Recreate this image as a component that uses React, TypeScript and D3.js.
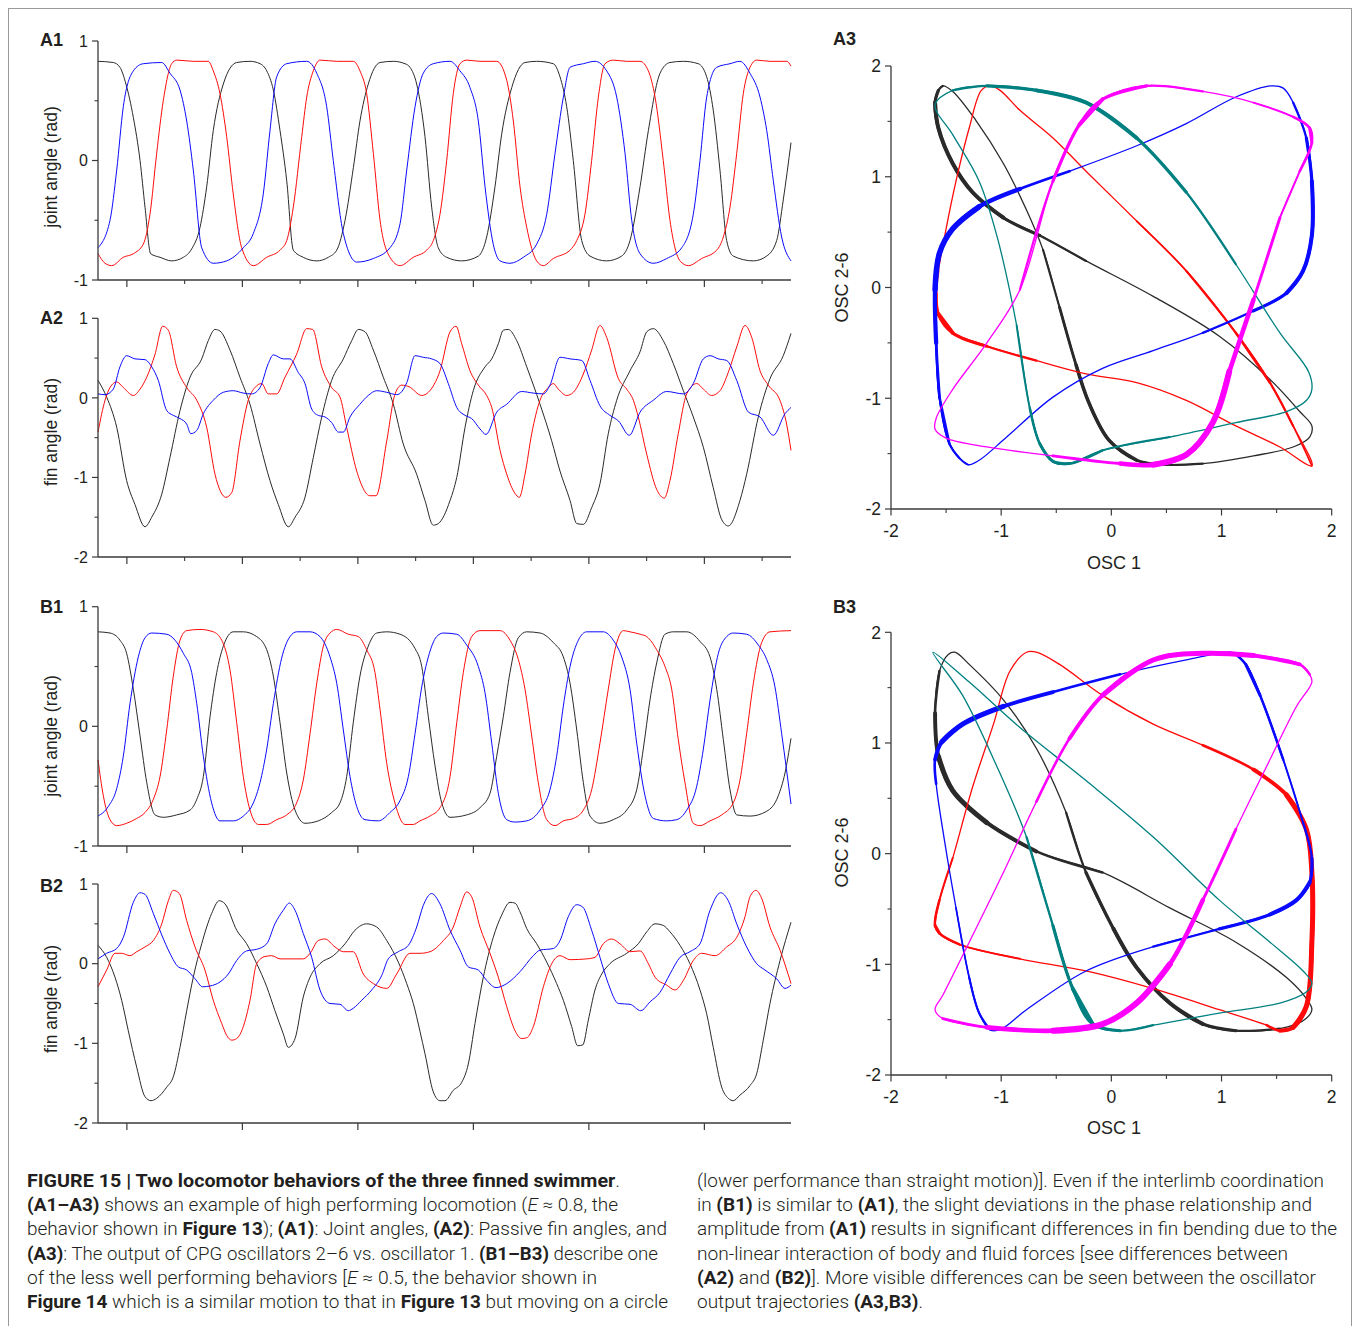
import React from "react";
import * as d3 from "d3";

type P = [number, number];
type Seg = [string, "n" | "b" | "i"];

// ---------- time axis (shared by A1, A2, B1, B2) ----------
const T_DOMAIN: P = [0, 60];
const T_MAJOR = [2.5, 12.5, 22.5, 32.5, 42.5, 52.5];
const T_MINOR = [7.5, 17.5, 27.5, 37.5, 47.5, 57.5];

// ---------- A1: joint angles ----------
const A1_BLACK: P[] = [[0,0.83],[1.32,0.82],[1.9,0.78],[2.42,0.64],[3.06,0.36],[3.64,0],[4.07,-0.39],[4.56,-0.78],[5.37,-0.81],[6.38,-0.84],[7.39,-0.81],[8.11,-0.74],[8.83,-0.56],[9.41,-0.22],[9.98,0.25],[10.85,0.64],[12.01,0.82],[13.16,0.83],[14.03,0.81],[14.61,0.75],[15.18,0.59],[15.76,0.25],[16.34,-0.17],[16.91,-0.75],[17.77,-0.81],[18.94,-0.84],[19.94,-0.81],[20.67,-0.75],[21.39,-0.5],[22.11,-0.06],[22.68,0.33],[23.4,0.64],[24.42,0.82],[25.57,0.83],[26.58,0.81],[27.01,0.78],[27.59,0.64],[28.31,0.2],[28.89,-0.39],[29.46,-0.73],[30.19,-0.81],[31.49,-0.84],[32.93,-0.8],[33.65,-0.64],[34.37,-0.22],[34.95,0.22],[35.82,0.61],[36.97,0.82],[37.98,0.83],[39.42,0.81],[40,0.7],[40.58,0.45],[41.15,0],[41.88,-0.67],[42.6,-0.8],[44.04,-0.84],[45.34,-0.8],[46.06,-0.67],[46.93,-0.22],[47.65,0.25],[48.66,0.73],[49.52,0.82],[50.68,0.83],[51.97,0.81],[52.7,0.7],[53.27,0.42],[53.85,-0.08],[54.43,-0.67],[55.0,-0.8],[56.74,-0.84],[57.89,-0.8],[58.76,-0.67],[59.33,-0.33],[60,0.15]];
const A1_BLUE: P[] = [[0,-0.73],[1.04,-0.5],[1.62,-0.08],[2.19,0.45],[3.06,0.75],[3.92,0.81],[5.52,0.82],[6.23,0.73],[7.1,0.59],[7.68,0.33],[8.25,-0.08],[8.98,-0.73],[9.98,-0.86],[11.14,-0.84],[12.58,-0.73],[13.45,-0.61],[14.31,-0.28],[14.89,0.25],[15.47,0.7],[16.34,0.81],[18.07,0.83],[18.94,0.73],[19.8,0.45],[20.37,0],[21.24,-0.61],[22.4,-0.85],[23.84,-0.82],[25.28,-0.73],[26.15,-0.53],[26.73,-0.08],[27.45,0.45],[28.16,0.73],[29.03,0.81],[30.48,0.83],[31.34,0.75],[32.21,0.61],[32.93,0.33],[33.51,-0.22],[34.22,-0.7],[34.81,-0.84],[35.67,-0.86],[36.82,-0.81],[37.98,-0.7],[38.85,-0.45],[39.57,0.06],[40.29,0.53],[40.87,0.78],[42.02,0.81],[43.03,0.83],[44.04,0.75],[44.91,0.53],[45.63,0.06],[46.21,-0.5],[46.93,-0.78],[48.08,-0.86],[49.24,-0.82],[50.54,-0.73],[51.54,-0.45],[52.12,0],[52.7,0.53],[53.57,0.78],[54.72,0.81],[55.58,0.83],[56.45,0.73],[57.32,0.53],[57.9,0.25],[58.47,-0.17],[59.19,-0.64],[60,-0.84]];
const A1_RED: P[] = [[0,-0.78],[0.61,-0.86],[1.19,-0.88],[2.19,-0.81],[3.06,-0.78],[3.92,-0.7],[4.5,-0.45],[5.08,0.06],[5.65,0.5],[6.38,0.81],[6.81,0.84],[8.25,0.83],[9.55,0.83],[9.98,0.75],[10.56,0.56],[11.14,0.2],[11.71,-0.28],[12.44,-0.73],[13.45,-0.88],[14.61,-0.81],[15.76,-0.75],[16.34,-0.67],[16.91,-0.39],[17.64,0.2],[18.07,0.53],[18.64,0.75],[19.22,0.84],[20.67,0.83],[22.1,0.83],[22.68,0.75],[23.26,0.56],[23.84,0.06],[24.42,-0.5],[25.28,-0.81],[26.15,-0.88],[27.3,-0.81],[28.46,-0.75],[29.03,-0.67],[29.61,-0.45],[30.19,0],[30.76,0.56],[31.34,0.81],[31.92,0.84],[33.07,0.83],[34.52,0.83],[35.39,0.67],[35.96,0.33],[36.54,-0.22],[37.12,-0.56],[37.98,-0.84],[38.55,-0.88],[39.42,-0.82],[40.87,-0.75],[41.45,-0.67],[42.16,-0.45],[42.74,0],[43.32,0.53],[43.9,0.81],[44.61,0.84],[45.77,0.83],[46.93,0.83],[47.65,0.75],[48.23,0.53],[48.94,0],[49.52,-0.5],[50.39,-0.84],[51.11,-0.88],[52.27,-0.82],[53.57,-0.75],[54.14,-0.64],[54.72,-0.39],[55.3,0.06],[55.87,0.56],[56.45,0.78],[57.03,0.84],[58.18,0.83],[59.63,0.83],[60,0.79]];

// ---------- A2: fin angles ----------
const A2_BLACK: P[] = [[0,0.22],[0.75,0.01],[1.62,-0.37],[2.48,-1.04],[3.2,-1.34],[4.07,-1.62],[4.65,-1.5],[5.52,-1.21],[6.23,-0.75],[7.1,-0.16],[7.97,0.26],[8.98,0.49],[9.55,0.72],[10.13,0.86],[10.56,0.84],[11.43,0.6],[12.29,0.26],[13.16,-0.08],[14.03,-0.58],[14.89,-1.04],[15.61,-1.34],[16.48,-1.62],[17.06,-1.5],[17.92,-1.25],[18.64,-0.75],[19.37,-0.24],[20.23,0.22],[21.24,0.49],[21.97,0.72],[22.54,0.86],[23.12,0.83],[23.84,0.6],[24.7,0.26],[25.57,-0.08],[26.43,-0.58],[27.59,-0.96],[28.31,-1.29],[29.03,-1.6],[29.46,-1.58],[30.48,-1.29],[31.06,-1.0],[31.78,-0.37],[32.49,0.09],[33.51,0.39],[34.09,0.49],[34.66,0.68],[35.09,0.85],[35.52,0.86],[36.25,0.72],[37.12,0.39],[38.27,-0.08],[39.28,-0.54],[40,-0.92],[40.87,-1.29],[41.45,-1.58],[42.02,-1.59],[42.74,-1.38],[43.46,-1.08],[44.18,-0.45],[44.91,-0.03],[46.06,0.34],[46.93,0.58],[47.51,0.83],[48.08,0.87],[48.94,0.72],[49.81,0.43],[50.68,0.09],[51.54,-0.24],[52.41,-0.62],[53.27,-1.13],[54.0,-1.53],[54.57,-1.61],[55.58,-1.29],[56.16,-0.96],[57.17,-0.24],[58.18,0.24],[59.33,0.53],[60,0.81]];
const A2_RED: P[] = [[0,-0.43],[0.61,-0.03],[1.04,0.13],[1.62,0.2],[2.19,0.13],[3.06,0.03],[3.64,0.11],[4.22,0.26],[4.94,0.55],[5.6,0.9],[6.09,0.85],[6.81,0.39],[7.68,0.13],[8.55,-0.03],[9.41,-0.37],[10.13,-0.96],[11.08,-1.25],[11.58,-1.19],[12.29,-0.54],[13.01,-0.03],[13.59,0.13],[14.17,0.18],[14.74,0.05],[15.47,0.05],[16.19,0.26],[17.2,0.55],[18.07,0.87],[18.59,0.86],[19.37,0.39],[20.23,0.13],[20.95,0.01],[21.53,-0.37],[22.4,-0.92],[23.55,-1.23],[24.07,-1.23],[25.0,-0.54],[25.72,0.05],[26.29,0.16],[26.93,0.14],[28.03,0.03],[28.6,0.07],[29.61,0.34],[30.48,0.83],[31.0,0.9],[31.49,0.68],[32.21,0.34],[32.93,0.16],[33.65,0.03],[34.09,-0.12],[34.81,-0.66],[35.39,-0.96],[36.1,-1.2],[36.48,-1.25],[36.97,-0.96],[37.55,-0.45],[38.27,-0.03],[38.99,0.13],[39.42,0.18],[39.85,0.11],[40.58,0.03],[41.15,0.07],[42.02,0.3],[42.74,0.6],[43.46,0.91],[44.04,0.76],[45.06,0.24],[45.77,0.11],[46.35,-0.03],[46.78,-0.24],[47.51,-0.71],[48.37,-1.15],[49.03,-1.26],[49.52,-1.04],[50.24,-0.45],[50.97,0.05],[51.84,0.18],[52.41,0.11],[53.13,0.03],[53.85,0.09],[54.57,0.32],[55.3,0.64],[56.02,0.91],[56.6,0.76],[57.32,0.34],[58.03,0.16],[59.04,-0.03],[59.62,-0.33],[60,-0.66]];
const A2_BLUE: P[] = [[0,0.05],[0.61,0.04],[1.32,0.11],[1.9,0.39],[2.48,0.53],[3.2,0.49],[4.07,0.48],[4.65,0.39],[5.22,0.22],[5.95,-0.16],[6.52,-0.22],[7.1,-0.26],[7.68,-0.33],[8.03,-0.45],[8.55,-0.41],[9.12,-0.2],[9.98,-0.03],[10.85,0.07],[11.71,0.09],[12.58,0.06],[13.31,0.05],[14.03,0.13],[14.74,0.43],[15.18,0.54],[16.04,0.49],[16.62,0.49],[17.34,0.32],[17.92,0.18],[18.5,-0.14],[19.07,-0.22],[19.65,-0.24],[20.23,-0.31],[20.81,-0.43],[21.24,-0.43],[21.82,-0.24],[22.68,-0.08],[23.4,0.03],[24.13,0.09],[25.0,0.07],[25.86,0.04],[26.73,0.19],[27.45,0.53],[28.16,0.51],[28.89,0.49],[29.61,0.43],[30.33,0.18],[31.06,-0.12],[31.78,-0.22],[32.35,-0.26],[33.07,-0.39],[33.59,-0.46],[34.52,-0.18],[35.39,-0.08],[36.68,0.08],[37.69,0.06],[38.56,0.05],[39.13,0.16],[40.0,0.51],[40.87,0.49],[41.88,0.47],[42.6,0.22],[43.46,-0.1],[44.33,-0.22],[45.06,-0.29],[46.0,-0.47],[46.93,-0.18],[48.08,-0.03],[49.24,0.08],[50.68,0.05],[51.54,0.18],[52.41,0.49],[52.99,0.53],[53.71,0.49],[54.43,0.47],[55.3,0.22],[56.32,-0.18],[57.32,-0.24],[58.47,-0.47],[59.48,-0.2],[60,-0.12]];

// ---------- B1: joint angles ----------
const B1_BLACK: P[] = [[0,0.79],[1.04,0.78],[1.9,0.72],[2.48,0.61],[3.06,0.31],[3.64,-0.08],[4.22,-0.47],[4.94,-0.74],[5.65,-0.76],[6.81,-0.74],[7.97,-0.7],[8.55,-0.61],[9.12,-0.42],[9.7,0.08],[10.28,0.45],[10.85,0.67],[11.71,0.79],[12.58,0.79],[13.74,0.75],[14.61,0.64],[15.18,0.42],[15.76,0.03],[16.34,-0.39],[17.06,-0.7],[17.92,-0.81],[19.07,-0.79],[20.23,-0.72],[20.95,-0.64],[21.53,-0.42],[22.1,0.03],[22.68,0.42],[23.4,0.67],[24.13,0.78],[25.0,0.79],[26.15,0.77],[27.45,0.65],[28.03,0.5],[28.6,0.08],[29.18,-0.33],[29.76,-0.64],[30.48,-0.76],[31.92,-0.74],[33.07,-0.68],[33.94,-0.56],[34.52,-0.25],[35.09,0.08],[35.67,0.45],[36.39,0.74],[37.12,0.79],[38.27,0.78],[39.42,0.7],[40.29,0.58],[40.87,0.36],[41.45,-0.03],[42.02,-0.47],[42.6,-0.75],[43.46,-0.81],[44.61,-0.78],[45.77,-0.7],[46.64,-0.53],[47.21,-0.19],[47.79,0.22],[48.37,0.53],[49.09,0.77],[49.81,0.79],[50.97,0.79],[52.12,0.71],[52.99,0.58],[53.57,0.31],[54.14,-0.11],[54.72,-0.53],[55.3,-0.74],[56.45,-0.75],[57.89,-0.71],[58.9,-0.58],[59.48,-0.39],[60,-0.1]];
const B1_BLUE: P[] = [[0,-0.75],[0.89,-0.67],[1.62,-0.52],[2.19,-0.25],[2.77,0.19],[3.49,0.58],[4.07,0.74],[4.65,0.78],[5.95,0.77],[6.67,0.72],[7.39,0.61],[8.11,0.45],[8.55,0.19],[9.12,-0.25],[9.84,-0.64],[10.56,-0.79],[11.71,-0.79],[12.58,-0.75],[13.45,-0.64],[14.03,-0.47],[14.61,-0.19],[15.18,0.19],[15.9,0.57],[16.62,0.75],[17.2,0.79],[18.36,0.79],[19.22,0.75],[20.09,0.58],[20.67,0.36],[21.24,-0.03],[21.82,-0.42],[22.4,-0.67],[23.12,-0.78],[24.27,-0.79],[25.28,-0.72],[26.15,-0.62],[26.87,-0.42],[27.45,-0.06],[28.03,0.33],[28.6,0.58],[29.32,0.75],[29.9,0.78],[31.06,0.77],[31.92,0.68],[32.93,0.5],[33.51,0.28],[34.09,-0.14],[34.66,-0.56],[35.39,-0.78],[36.1,-0.8],[37.12,-0.79],[38.27,-0.7],[39.13,-0.53],[39.71,-0.25],[40.29,0.17],[40.87,0.5],[41.59,0.72],[42.31,0.79],[43.75,0.79],[44.61,0.72],[45.34,0.58],[46.06,0.31],[46.64,-0.14],[47.36,-0.58],[48.08,-0.77],[49.24,-0.79],[50.1,-0.78],[50.97,-0.7],[51.84,-0.5],[52.41,-0.19],[52.99,0.22],[53.71,0.61],[54.43,0.75],[55.0,0.78],[56.16,0.77],[57.17,0.68],[57.89,0.56],[58.61,0.33],[59.19,-0.06],[60,-0.65]];
const B1_RED: P[] = [[0,-0.28],[0.46,-0.58],[1.04,-0.78],[1.62,-0.83],[2.48,-0.81],[3.35,-0.77],[4.07,-0.72],[4.79,-0.61],[5.37,-0.42],[5.95,-0.03],[6.52,0.42],[7.1,0.72],[7.68,0.8],[8.83,0.81],[9.98,0.79],[10.71,0.72],[11.43,0.47],[12.01,0.03],[12.58,-0.42],[13.16,-0.7],[13.88,-0.82],[14.61,-0.82],[15.47,-0.78],[16.34,-0.74],[17.2,-0.64],[17.77,-0.45],[18.36,-0.06],[18.94,0.36],[19.51,0.67],[20.09,0.78],[20.67,0.81],[21.67,0.77],[22.54,0.75],[23.26,0.64],[23.98,0.45],[24.42,0.14],[25.0,-0.31],[25.71,-0.64],[26.58,-0.82],[27.3,-0.82],[27.88,-0.79],[28.74,-0.75],[29.61,-0.68],[30.48,-0.42],[31.06,0.03],[31.63,0.45],[32.35,0.75],[33.07,0.8],[34.81,0.8],[35.67,0.72],[36.39,0.56],[36.97,0.31],[37.55,-0.08],[38.12,-0.47],[38.85,-0.78],[39.57,-0.83],[40.29,-0.79],[41.15,-0.77],[42.02,-0.7],[42.74,-0.53],[43.46,-0.14],[44.18,0.31],[44.76,0.64],[45.48,0.8],[46.06,0.79],[46.93,0.77],[47.51,0.75],[48.37,0.64],[49.09,0.5],[49.67,0.31],[50.24,-0.11],[50.82,-0.47],[51.54,-0.81],[52.12,-0.83],[52.99,-0.79],[54.0,-0.74],[55.0,-0.64],[55.58,-0.45],[56.16,-0.06],[56.74,0.36],[57.46,0.7],[58.18,0.79],[60,0.8]];

// ---------- B2: fin angles ----------
const B2_BLACK: P[] = [[0,0.23],[0.75,0.08],[1.47,-0.17],[2.05,-0.46],[2.62,-0.84],[3.35,-1.3],[4.07,-1.67],[4.59,-1.72],[5.08,-1.69],[5.95,-1.55],[6.52,-1.42],[7.1,-1.05],[7.68,-0.59],[8.25,-0.17],[8.98,0.25],[9.84,0.63],[10.5,0.79],[11.0,0.75],[12.01,0.42],[12.87,0.25],[13.74,0],[14.61,-0.29],[15.32,-0.59],[16.04,-0.88],[16.48,-1.05],[17.06,-0.94],[17.77,-0.42],[18.36,-0.17],[19.22,0],[20.37,0.1],[21.39,0.25],[22.25,0.42],[23.26,0.5],[24.13,0.46],[25.0,0.29],[26.0,0.02],[26.73,-0.25],[27.3,-0.5],[27.88,-0.85],[28.31,-1.13],[29.03,-1.61],[29.61,-1.72],[30.04,-1.72],[30.76,-1.59],[31.49,-1.49],[32.06,-1.26],[32.64,-0.75],[33.36,-0.17],[34.22,0.33],[34.95,0.61],[35.67,0.77],[36.1,0.76],[36.54,0.65],[37.12,0.44],[37.98,0.25],[38.85,0.02],[39.71,-0.25],[40.29,-0.46],[41.01,-0.79],[41.53,-1.03],[41.97,-1.02],[42.45,-0.71],[43.03,-0.33],[43.61,-0.13],[44.33,0],[45.77,0.13],[46.78,0.25],[47.51,0.4],[48.23,0.5],[48.94,0.48],[49.52,0.4],[50.39,0.23],[51.25,0],[52.12,-0.33],[52.7,-0.63],[53.27,-1.05],[54.0,-1.55],[54.57,-1.69],[55.0,-1.72],[55.58,-1.65],[56.45,-1.53],[57.03,-1.38],[57.6,-0.96],[58.18,-0.5],[59.05,0.04],[60,0.52]];
const B2_RED: P[] = [[0,-0.29],[0.75,-0.08],[1.47,0.13],[2.05,0.13],[2.77,0.1],[3.35,0.15],[4.07,0.21],[4.79,0.29],[5.52,0.5],[6.09,0.79],[6.52,0.92],[7.04,0.88],[7.68,0.54],[8.4,0.21],[9.26,-0.08],[9.98,-0.46],[10.71,-0.75],[11.14,-0.9],[11.58,-0.96],[12.01,-0.94],[12.58,-0.79],[13.16,-0.46],[13.74,0],[14.46,0.09],[15.04,0.1],[15.76,0.06],[16.62,0.06],[17.77,0.06],[18.36,0.13],[19.07,0.29],[19.65,0.31],[20.52,0.21],[21.24,0.15],[22.1,0.15],[22.97,-0.13],[23.84,-0.25],[25.0,-0.31],[25.86,-0.13],[27.01,0.13],[27.88,0.13],[28.74,0.15],[29.9,0.29],[30.76,0.46],[31.34,0.71],[31.92,0.9],[32.35,0.84],[33.07,0.46],[33.94,0.13],[34.66,-0.17],[35.39,-0.54],[36.1,-0.84],[36.68,-0.94],[37.12,-0.93],[37.69,-0.79],[38.56,-0.29],[39.28,0],[40.0,0.1],[40.87,0.05],[42.31,0.06],[43.03,0.08],[43.75,0.25],[44.48,0.31],[45.19,0.25],[46.06,0.15],[46.93,0.16],[47.65,0],[48.23,-0.17],[49.24,-0.27],[49.96,-0.33],[50.68,-0.21],[51.54,0.04],[52.27,0.13],[53.42,0.1],[54.43,0.21],[55.3,0.33],[56.02,0.59],[56.45,0.84],[56.97,0.92],[57.46,0.82],[58.18,0.46],[59.05,0.17],[60,-0.25]];
const B2_BLUE: P[] = [[0,0.06],[0.75,0.13],[1.62,0.19],[2.19,0.33],[3.06,0.77],[3.64,0.89],[4.07,0.87],[4.79,0.63],[5.52,0.36],[6.23,0.13],[6.95,-0.04],[7.68,-0.08],[8.4,-0.19],[9.06,-0.29],[9.7,-0.28],[10.56,-0.23],[11.28,-0.13],[12.01,0.04],[12.87,0.16],[13.74,0.18],[14.61,0.25],[15.32,0.5],[16.04,0.67],[16.56,0.76],[17.06,0.67],[17.77,0.38],[18.5,0.08],[19.22,-0.33],[20.09,-0.5],[20.95,-0.51],[21.67,-0.59],[22.1,-0.56],[22.83,-0.46],[23.7,-0.33],[24.56,-0.15],[25.13,0.06],[26.0,0.15],[26.87,0.23],[27.59,0.46],[28.16,0.73],[28.89,0.88],[29.61,0.75],[30.48,0.42],[31.34,0.17],[32.06,-0.04],[32.93,-0.08],[33.65,-0.21],[34.46,-0.3],[35.39,-0.25],[36.54,-0.1],[37.69,0.1],[38.27,0.17],[39.42,0.19],[40.0,0.29],[40.72,0.59],[41.45,0.74],[41.97,0.71],[42.74,0.42],[43.46,0.08],[44.18,-0.25],[45.06,-0.5],[46.06,-0.51],[46.99,-0.59],[47.79,-0.48],[48.66,-0.36],[49.52,-0.13],[50.39,0.08],[51.25,0.15],[52.12,0.25],[52.99,0.67],[53.91,0.89],[54.57,0.79],[55.3,0.5],[56.16,0.21],[57.03,0],[57.75,-0.08],[58.76,-0.19],[59.48,-0.31],[60,-0.27]];

// ---------- A3 / B3: oscillator 2-6 vs oscillator 1 ----------
const OSC_TICKS = [-2, -1, 0, 1, 2];
const OSC_MINOR = [-1.5, -0.5, 0.5, 1.5];

const A3_BLACK: P[] = [[-1.53,1.82],[-1.44,1.77],[-1.23,1.51],[-0.98,1.12],[-0.77,0.7],[-0.62,0.34],[-0.47,-0.18],[-0.32,-0.7],[-0.2,-1.05],[-0.02,-1.38],[0.23,-1.56],[0.47,-1.6],[0.83,-1.59],[1.29,-1.52],[1.65,-1.44],[1.8,-1.35],[1.82,-1.25],[1.71,-1.12],[1.44,-0.83],[0.98,-0.44],[0.38,-0.08],[-0.23,0.24],[-0.65,0.47],[-0.98,0.63],[-1.26,0.86],[-1.44,1.12],[-1.57,1.44],[-1.6,1.67],[-1.57,1.78]];
const A3_RED: P[] = [[-1.1,1.82],[-1.18,1.78],[-1.29,1.44],[-1.41,0.96],[-1.5,0.53],[-1.57,0.15],[-1.59,-0.05],[-1.57,-0.24],[-1.44,-0.41],[-1.13,-0.53],[-0.68,-0.66],[-0.23,-0.78],[0.23,-0.86],[0.68,-1.02],[1.13,-1.25],[1.53,-1.44],[1.82,-1.61],[1.65,-1.25],[1.44,-0.86],[1.13,-0.41],[0.68,0.15],[0.23,0.6],[-0.23,1.05],[-0.53,1.35],[-0.83,1.6],[-1.01,1.78]];
const A3_BLUE: P[] = [[1.45,1.82],[1.13,1.72],[0.68,1.48],[0.23,1.28],[-0.38,1.05],[-0.83,0.89],[-1.2,0.73],[-1.44,0.53],[-1.56,0.31],[-1.6,-0.02],[-1.59,-0.5],[-1.56,-0.99],[-1.47,-1.41],[-1.38,-1.54],[-1.3,-1.6],[-1.2,-1.56],[-0.95,-1.35],[-0.53,-0.99],[-0.08,-0.73],[0.38,-0.57],[0.83,-0.41],[1.29,-0.21],[1.59,-0.05],[1.74,0.15],[1.82,0.47],[1.82,0.96],[1.77,1.35],[1.65,1.67],[1.56,1.8]];
const A3_TEAL: P[] = [[-1.6,1.65],[-1.44,1.78],[-1.13,1.82],[-0.68,1.78],[-0.23,1.67],[0.23,1.35],[0.68,0.86],[1.13,0.21],[1.53,-0.41],[1.79,-0.76],[1.82,-0.92],[1.77,-1.02],[1.59,-1.12],[1.13,-1.22],[0.53,-1.35],[-0.08,-1.47],[-0.38,-1.59],[-0.53,-1.57],[-0.65,-1.41],[-0.74,-1.09],[-0.86,-0.34],[-1.04,0.47],[-1.2,0.96],[-1.44,1.38]];
const A3_MAGENTA: P[] = [[0.32,1.82],[-0.08,1.7],[-0.29,1.47],[-0.53,0.96],[-0.83,-0.02],[-1.13,-0.5],[-1.44,-0.92],[-1.59,-1.18],[-1.6,-1.28],[-1.5,-1.36],[-1.13,-1.44],[-0.53,-1.52],[0.08,-1.59],[0.38,-1.6],[0.68,-1.51],[0.92,-1.22],[1.07,-0.76],[1.29,-0.11],[1.53,0.63],[1.71,1.05],[1.82,1.31],[1.8,1.44],[1.65,1.54],[1.29,1.67],[0.83,1.77]];

const B3_BLACK: P[] = [[-1.42,1.82],[-1.29,1.71],[-0.98,1.39],[-0.68,0.95],[-0.41,0.37],[-0.23,-0.17],[0.02,-0.68],[0.23,-1.03],[0.53,-1.35],[0.83,-1.54],[1.13,-1.6],[1.53,-1.58],[1.74,-1.51],[1.82,-1.41],[1.77,-1.31],[1.59,-1.12],[1.13,-0.8],[0.53,-0.49],[-0.08,-0.17],[-0.68,0.02],[-1.13,0.28],[-1.44,0.57],[-1.57,0.88],[-1.6,1.27],[-1.56,1.65],[-1.48,1.8]];
const B3_RED: P[] = [[-0.77,1.82],[-0.92,1.65],[-1.07,1.17],[-1.26,0.6],[-1.44,-0.04],[-1.56,-0.42],[-1.6,-0.65],[-1.56,-0.72],[-1.38,-0.82],[-0.83,-0.95],[-0.23,-1.06],[0.38,-1.22],[0.98,-1.41],[1.41,-1.55],[1.53,-1.6],[1.65,-1.57],[1.77,-1.38],[1.82,-0.8],[1.82,-0.17],[1.77,0.22],[1.59,0.53],[1.29,0.76],[0.83,0.98],[0.38,1.17],[-0.08,1.43],[-0.47,1.71],[-0.68,1.82]];
const B3_BLUE: P[] = [[1.07,1.82],[0.68,1.75],[0.08,1.62],[-0.53,1.46],[-0.98,1.33],[-1.35,1.17],[-1.54,1.01],[-1.6,0.85],[-1.59,0.63],[-1.51,0.09],[-1.41,-0.49],[-1.29,-1.12],[-1.2,-1.44],[-1.1,-1.59],[-1.01,-1.59],[-0.77,-1.41],[-0.23,-1.06],[0.38,-0.84],[0.98,-0.68],[1.44,-0.55],[1.68,-0.42],[1.8,-0.26],[1.82,-0.04],[1.74,0.28],[1.56,0.85],[1.35,1.43],[1.22,1.71],[1.13,1.8]];
const B3_TEAL: P[] = [[-1.62,1.82],[-1.29,1.55],[-0.83,1.14],[-0.23,0.66],[0.38,0.15],[0.98,-0.42],[1.44,-0.8],[1.74,-1.06],[1.82,-1.17],[1.77,-1.25],[1.53,-1.35],[0.98,-1.44],[0.38,-1.55],[0.08,-1.6],[-0.17,-1.54],[-0.35,-1.22],[-0.53,-0.65],[-0.77,0.15],[-1.04,0.79],[-1.35,1.43]];
const B3_MAGENTA: P[] = [[1.8,1.62],[1.71,1.71],[1.29,1.79],[0.83,1.81],[0.38,1.75],[-0.08,1.43],[-0.38,1.04],[-0.68,0.47],[-0.98,-0.17],[-1.29,-0.8],[-1.53,-1.28],[-1.6,-1.41],[-1.53,-1.49],[-1.13,-1.57],[-0.53,-1.6],[-0.08,-1.54],[0.23,-1.35],[0.53,-1.0],[0.83,-0.42],[1.13,0.22],[1.44,0.85],[1.68,1.33],[1.82,1.55]];

// ---------- caption ----------
const CAPTION_LEFT: Seg[][] = [
  [["FIGURE 15 | Two locomotor behaviors of the three finned swimmer", "b"], [".", "n"]],
  [["(A1–A3)", "b"], [" shows an example of high performing locomotion (", "n"], ["E", "i"], [" ≈ 0.8, the", "n"]],
  [["behavior shown in ", "n"], ["Figure 13", "b"], ["); ", "n"], ["(A1)", "b"], [": Joint angles, ", "n"], ["(A2)", "b"], [": Passive fin angles, and", "n"]],
  [["(A3)", "b"], [": The output of CPG oscillators 2–6 vs. oscillator 1. ", "n"], ["(B1–B3)", "b"], [" describe one", "n"]],
  [["of the less well performing behaviors [", "n"], ["E", "i"], [" ≈ 0.5, the behavior shown in", "n"]],
  [["Figure 14", "b"], [" which is a similar motion to that in ", "n"], ["Figure 13", "b"], [" but moving on a circle", "n"]],
];
const CAPTION_RIGHT: Seg[][] = [
  [["(lower performance than straight motion)]. Even if the interlimb coordination", "n"]],
  [["in ", "n"], ["(B1)", "b"], [" is similar to ", "n"], ["(A1)", "b"], [", the slight deviations in the phase relationship and", "n"]],
  [["amplitude from ", "n"], ["(A1)", "b"], [" results in significant differences in fin bending due to the", "n"]],
  [["non-linear interaction of body and fluid forces [see differences between", "n"]],
  [["(A2)", "b"], [" and ", "n"], ["(B2)", "b"], ["]. More visible differences can be seen between the oscillator", "n"]],
  [["output trajectories ", "n"], ["(A3,B3)", "b"], [".", "n"]],
];

// ---------- style / layout ----------
const FONT = "'Liberation Sans', Arial, Helvetica, sans-serif";
const CAP_FONT = "Roboto, 'Liberation Sans', Arial, sans-serif";
const INK = "#231f20";
const AXIS = "#3a3a3a";
const C_BLACK = "#2a2a2a";
const C_BLUE = "#0a0aff";
const C_RED = "#ff0a0a";
const C_TEAL = "#008080";
const C_MAGENTA = "#ff00ff";
const CAP_LEFT_LEN = [593, 591, 640, 631, 570, 641];
const CAP_RIGHT_LEN = [627, 615, 640, 591, 619, 226];

type Series = { data: P[]; color: string };

function TimePanel(props: {
  label: string; labelY: number; yLabel: string; yLabelY: number;
  top: number; bottom: number; yDomain: P; yMajor: number[]; yMinor: number[];
  minorX: boolean; series: Series[];
}) {
  const { label, labelY, yLabel, yLabelY, top, bottom, yDomain, yMajor, yMinor, minorX, series } = props;
  const x = d3.scaleLinear().domain(T_DOMAIN).range([98, 791]);
  const y = d3.scaleLinear().domain(yDomain).range([bottom, top]);
  const line = d3.line<P>().x((d) => x(d[0])).y((d) => y(d[1])).curve(d3.curveMonotoneX);
  return (
    <g>
      {series.map((s, i) => (
        <path key={i} d={line(s.data) || ""} fill="none" stroke={s.color} strokeWidth={1} strokeLinejoin="round" />
      ))}
      <line x1={x(T_DOMAIN[0])} x2={x(T_DOMAIN[0])} y1={y(yDomain[1])} y2={y(yDomain[0])} stroke={AXIS} strokeWidth={1.3} />
      <line x1={x(T_DOMAIN[0])} x2={x(T_DOMAIN[1])} y1={y(yDomain[0])} y2={y(yDomain[0])} stroke={AXIS} strokeWidth={1.3} />
      {yMajor.map((v) => (
        <g key={"ym" + v}>
          <line x1={x(T_DOMAIN[0]) - 6} x2={x(T_DOMAIN[0])} y1={y(v)} y2={y(v)} stroke={AXIS} strokeWidth={1.2} />
          <text x={x(T_DOMAIN[0]) - 10} y={y(v)} dy="0.36em" textAnchor="end" fontSize={16} fill={INK} fontFamily={FONT}>{v < 0 ? "-" + Math.abs(v) : String(v)}</text>
        </g>
      ))}
      {yMinor.map((v) => (
        <line key={"yn" + v} x1={x(T_DOMAIN[0]) - 3.5} x2={x(T_DOMAIN[0])} y1={y(v)} y2={y(v)} stroke={AXIS} strokeWidth={1.1} />
      ))}
      {T_MAJOR.map((v) => (
        <line key={"xm" + v} x1={x(v)} x2={x(v)} y1={y(yDomain[0])} y2={y(yDomain[0]) + 7} stroke={AXIS} strokeWidth={1.2} />
      ))}
      {minorX && T_MINOR.map((v) => (
        <line key={"xn" + v} x1={x(v)} x2={x(v)} y1={y(yDomain[0])} y2={y(yDomain[0]) + 4} stroke={AXIS} strokeWidth={1.1} />
      ))}
      <text x={40} y={labelY} fontSize={18} fontWeight="bold" fill={INK} fontFamily={FONT}>{label}</text>
      <text transform={`translate(57,${yLabelY}) rotate(-90)`} textAnchor="middle" fontSize={17.5} fill={INK} fontFamily={FONT}>{yLabel}</text>
    </g>
  );
}

type Loop = { data: P[]; color: string; thick: [number, number, number][] };

function LoopPanel(props: { label: string; labelY: number; top: number; bottom: number; yLabelY: number; xLabelY: number; loops: Loop[] }) {
  const { label, labelY, top, bottom, yLabelY, xLabelY, loops } = props;
  const x = d3.scaleLinear().domain([-2, 2]).range([891, 1331.7]);
  const y = d3.scaleLinear().domain([-2, 2]).range([bottom, top]);
  const closed = d3.line<P>().x((d) => x(d[0])).y((d) => y(d[1])).curve(d3.curveCatmullRomClosed.alpha(0.5));
  const open = d3.line<P>().x((d) => x(d[0])).y((d) => y(d[1])).curve(d3.curveCatmullRom.alpha(0.5));
  const slice = (arr: P[], a: number, b: number) => {
    const out: P[] = [];
    for (let i = a; i <= b; i++) out.push(arr[((i % arr.length) + arr.length) % arr.length]);
    return out;
  };
  const base = 1.3;
  return (
    <g>
      {loops.map((lp, i) => (
        <g key={i}>
          <path d={closed(lp.data) || ""} fill="none" stroke={lp.color} strokeWidth={base} />
          {lp.thick.map(([a, b, w], j) => (
            <g key={j}>
              <path d={open(slice(lp.data, a - 1, b + 1)) || ""} fill="none" stroke={lp.color} strokeWidth={base + (w - base) * 0.35} strokeLinecap="round" />
              <path d={open(slice(lp.data, a, b)) || ""} fill="none" stroke={lp.color} strokeWidth={base + (w - base) * 0.7} strokeLinecap="round" strokeLinejoin="round" />
              {b - a >= 3 && (
                <path d={open(slice(lp.data, a + 1, b - 1)) || ""} fill="none" stroke={lp.color} strokeWidth={w} strokeLinecap="round" strokeLinejoin="round" />
              )}
            </g>
          ))}
        </g>
      ))}
      <line x1={x(-2)} x2={x(-2)} y1={y(2)} y2={y(-2)} stroke={AXIS} strokeWidth={1.3} />
      <line x1={x(-2)} x2={x(2)} y1={y(-2)} y2={y(-2)} stroke={AXIS} strokeWidth={1.3} />
      {OSC_TICKS.map((v) => (
        <g key={"t" + v}>
          <line x1={x(-2) - 6} x2={x(-2)} y1={y(v)} y2={y(v)} stroke={AXIS} strokeWidth={1.2} />
          <line x1={x(v)} x2={x(v)} y1={y(-2)} y2={y(-2) + 6.5} stroke={AXIS} strokeWidth={1.2} />
          <text x={x(-2) - 10} y={y(v)} dy="0.36em" textAnchor="end" fontSize={17.5} fill={INK} fontFamily={FONT}>{v < 0 ? "-" + Math.abs(v) : String(v)}</text>
          <text x={x(v)} y={y(-2) + 28} textAnchor="middle" fontSize={17.5} fill={INK} fontFamily={FONT}>{v < 0 ? "-" + Math.abs(v) : String(v)}</text>
        </g>
      ))}
      {OSC_MINOR.map((v) => (
        <g key={"n" + v}>
          <line x1={x(-2) - 3.5} x2={x(-2)} y1={y(v)} y2={y(v)} stroke={AXIS} strokeWidth={1.1} />
          <line x1={x(v)} x2={x(v)} y1={y(-2)} y2={y(-2) + 4} stroke={AXIS} strokeWidth={1.1} />
        </g>
      ))}
      <text x={833} y={labelY} fontSize={18} fontWeight="bold" fill={INK} fontFamily={FONT}>{label}</text>
      <text transform={`translate(848,${yLabelY}) rotate(-90)`} textAnchor="middle" fontSize={18} fill={INK} fontFamily={FONT}>OSC 2-6</text>
      <text x={1114} y={xLabelY} textAnchor="middle" fontSize={18} fill={INK} fontFamily={FONT}>OSC 1</text>
    </g>
  );
}

function Caption(props: { lines: Seg[][]; x: number; lens: number[] }) {
  const base = 1187;
  const step = 24.2;
  return (
    <g>
      {props.lines.map((ln, i) => (
        <text key={i} x={props.x} y={base + i * step} fontSize={17.5} fill={INK} fontFamily={CAP_FONT}
          textLength={props.lens[i]} lengthAdjust="spacingAndGlyphs">
          {ln.map(([s, st], j) => (
            <tspan key={j} fontWeight={st === "b" ? 700 : 300} fontStyle={st === "i" ? "italic" : "normal"}>{s}</tspan>
          ))}
        </text>
      ))}
    </g>
  );
}

export default function App() {
  return (
    <svg width={1355} height={1326} style={{ position: "absolute", left: 0, top: 0, background: "#fff" }}>
      <rect x={0} y={0} width={1355} height={1326} fill="#fff" />
      <line x1={8} x2={1352} y1={8.5} y2={8.5} stroke="#9a9a9a" strokeWidth={1} />
      <line x1={8.5} x2={8.5} y1={8} y2={1326} stroke="#9a9a9a" strokeWidth={1} />
      <line x1={1351.5} x2={1351.5} y1={8} y2={1326} stroke="#9a9a9a" strokeWidth={1} />

      <TimePanel label="A1" labelY={46} yLabel="joint angle (rad)" yLabelY={167} top={41} bottom={280}
        yDomain={[-1, 1]} yMajor={[-1, 0, 1]} yMinor={[-0.5, 0.5]} minorX={true}
        series={[{ data: A1_BLACK, color: C_BLACK }, { data: A1_RED, color: C_RED }, { data: A1_BLUE, color: C_BLUE }]} />
      <TimePanel label="A2" labelY={323.5} yLabel="fin angle (rad)" yLabelY={432} top={318.3} bottom={557}
        yDomain={[-2, 1]} yMajor={[-2, -1, 0, 1]} yMinor={[-1.5, -0.5, 0.5]} minorX={true}
        series={[{ data: A2_BLACK, color: C_BLACK }, { data: A2_RED, color: C_RED }, { data: A2_BLUE, color: C_BLUE }]} />
      <TimePanel label="B1" labelY={613} yLabel="joint angle (rad)" yLabelY={736} top={606.7} bottom={846}
        yDomain={[-1, 1]} yMajor={[-1, 0, 1]} yMinor={[-0.5, 0.5]} minorX={false}
        series={[{ data: B1_BLACK, color: C_BLACK }, { data: B1_RED, color: C_RED }, { data: B1_BLUE, color: C_BLUE }]} />
      <TimePanel label="B2" labelY={892} yLabel="fin angle (rad)" yLabelY={999} top={884} bottom={1123}
        yDomain={[-2, 1]} yMajor={[-2, -1, 0, 1]} yMinor={[-1.5, -0.5, 0.5]} minorX={false}
        series={[{ data: B2_BLACK, color: C_BLACK }, { data: B2_RED, color: C_RED }, { data: B2_BLUE, color: C_BLUE }]} />

      <LoopPanel label="A3" labelY={45} top={66} bottom={509} yLabelY={287.5} xLabelY={569}
        loops={[
          { data: A3_BLACK, color: C_BLACK, thick: [[6, 11, 3.5], [22, 28, 4]] },
          { data: A3_RED, color: C_RED, thick: [[6, 9, 4], [17, 20, 2.5]] },
          { data: A3_BLUE, color: C_BLUE, thick: [[5, 10, 5.5], [21, 26, 4], [10, 13, 2.5]] },
          { data: A3_TEAL, color: C_TEAL, thick: [[2, 6, 4], [15, 19, 3]] },
          { data: A3_MAGENTA, color: C_MAGENTA, thick: [[12, 17, 6], [0, 3, 4], [19, 22, 3]] },
        ]} />
      <LoopPanel label="B3" labelY={613} top={632.3} bottom={1075} yLabelY={852.5} xLabelY={1134}
        loops={[
          { data: B3_BLACK, color: C_BLACK, thick: [[5, 10, 4], [19, 23, 5]] },
          { data: B3_RED, color: C_RED, thick: [[14, 21, 5], [5, 8, 3]] },
          { data: B3_BLUE, color: C_BLUE, thick: [[3, 7, 5], [18, 22, 4], [24, 27, 3], [11, 13, 2.5]] },
          { data: B3_TEAL, color: C_TEAL, thick: [[13, 16, 4]] },
          { data: B3_MAGENTA, color: C_MAGENTA, thick: [[1, 6, 5], [13, 18, 6]] },
        ]} />

      <Caption lines={CAPTION_LEFT} x={27} lens={CAP_LEFT_LEN} />
      <Caption lines={CAPTION_RIGHT} x={697} lens={CAP_RIGHT_LEN} />
    </svg>
  );
}
